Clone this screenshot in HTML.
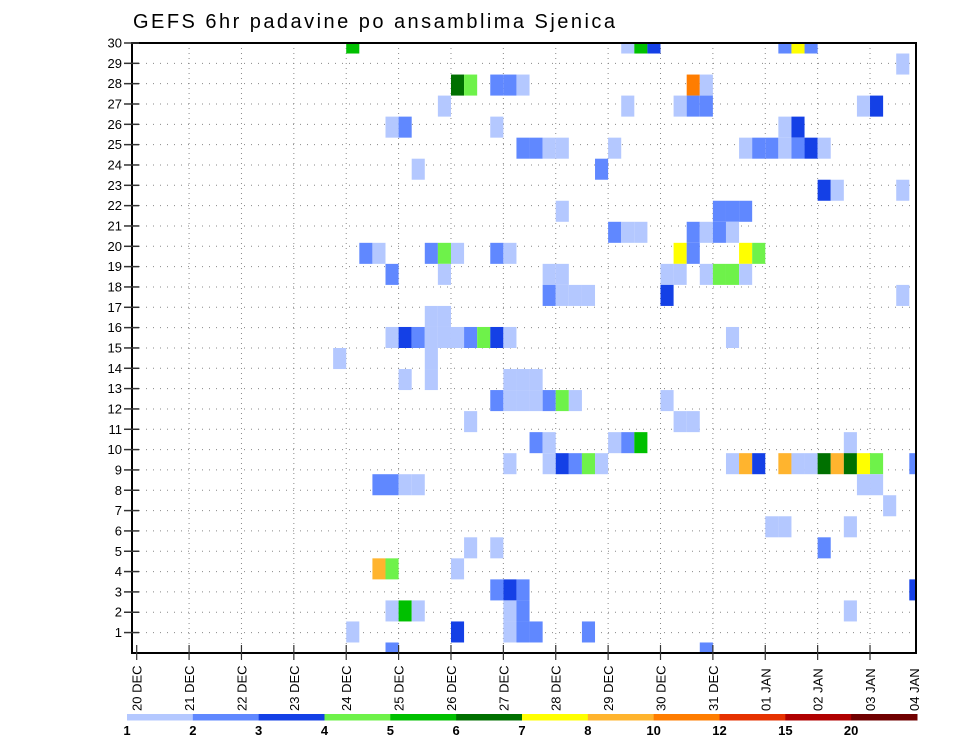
<!DOCTYPE html>
<html><head><meta charset="utf-8"><style>
body{margin:0;background:#fff}
svg{display:block;font-family:"Liberation Sans",sans-serif}
</style></head><body>
<svg id="chart" width="960" height="742" viewBox="0 0 960 742" xmlns="http://www.w3.org/2000/svg">
<text x="133" y="28" font-size="20" textLength="482" lengthAdjust="spacing" fill="#000">GEFS 6hr padavine po ansamblima Sjenica</text>
<g id="grid"></g>
<g id="cells"></g>
<rect x="132" y="43" width="784" height="610" fill="none" stroke="#000" stroke-width="2"/>
<g id="yaxis"></g>
<g id="xaxis"></g>
<g id="legend"></g>
</svg>
<script>
const dayLabels=["20 DEC","21 DEC","22 DEC","23 DEC","24 DEC","25 DEC","26 DEC","27 DEC","28 DEC","29 DEC","30 DEC","31 DEC","01 JAN","02 JAN","03 JAN","04 JAN"];
const memberTicks=[1,2,3,4,5,6,7,8,9,10,11,12,13,14,15,16,17,18,19,20,21,22,23,24,25,26,27,28,29,30];
const legendBounds=["1","2","3","4","5","6","7","8","10","12","15","20"];
const binEdges=[1,2,3,4,5,6,7,8,10,12,15,20];
const binColors=["#b4c8ff","#6088ff","#1440e6","#6ef24a","#00c000","#007000","#ffff00","#ffb42e","#ff7d00","#e63200","#b00000","#700000"];
// member, 6h-step index (from 20 DEC 00Z), precipitation (mm)
const cellMember=[30,30,30,30,30,30,30, 29, 28,28,28,28,28,28,28, 27,27,27,27,27,27,27, 26,26,26,26,26,
25,25,25,25,25,25,25,25,25,25,25,25, 24,24, 23,23,23, 22,22,22,22, 21,21,21,21,21,21,21,
20,20,20,20,20,20,20,20,20,20,20, 19,19,19,19,19,19,19,19,19,19, 18,18,18,18,18,18, 17,17,
16,16,16,16,16,16,16,16,16,16,16, 15,15, 14,14,14,14,14, 13,13,13,13,13,13,13,13, 12,12,12,
11,11,11,11,11,11, 10,10,10,10,10,10,10,10,10,10,10,10,10,10,10,10,10,10, 9,9,9,9,9,9, 8, 7,7,7,
6,6,6, 5,5,5, 4,4,4,4, 3,3,3,3,3,3, 2,2,2,2,2,2, 1,1];
const cellStep=[16,37,38,39,49,50,51, 58, 24,25,27,28,29,42,43, 23,37,41,42,43,55,56, 19,20,27,49,50,
29,30,31,32,36,46,47,48,49,50,51,52, 21,35, 52,53,58, 32,44,45,46, 36,37,38,42,43,44,45,
17,18,22,23,24,27,28,41,42,46,47, 19,23,31,32,40,41,43,44,45,46, 31,32,33,34,40,58, 22,23,
19,20,21,22,23,24,25,26,27,28,45, 15,22, 20,22,28,29,30, 27,28,29,30,31,32,33,40, 25,41,42,
30,31,36,37,38,54, 28,31,32,33,34,35,45,46,47,49,50,51,52,53,54,55,56,59, 18,19,20,21,55,56, 57, 48,49,54,
25,27,52, 18,19,24, 27,28,29,59, 19,20,21,28,29,54, 16,24,28,29,30,34, 19,43];
const cellValue=[5.5,1.5,5.5,3.5,2.5,7.5,2.5, 1.5, 6.5,4.5,2.5,2.5,1.5,11,1.5, 1.5,1.5,1.5,2.5,2.5,1.5,3.5, 1.5,2.5,1.5,1.5,3.5,
2.5,2.5,1.5,1.5,1.5,1.5,2.5,2.5,1.5,2.5,3.5,1.5, 1.5,2.5, 3.5,1.5,1.5, 1.5,2.5,2.5,2.5, 2.5,1.5,1.5,2.5,1.5,2.5,1.5,
2.5,1.5,2.5,4.5,1.5,2.5,1.5,7.5,2.5,7.5,4.5, 2.5,1.5,1.5,1.5,1.5,1.5,1.5,4.5,4.5,1.5, 2.5,1.5,1.5,1.5,3.5,1.5, 1.5,1.5,
1.5,3.5,2.5,1.5,1.5,1.5,2.5,4.5,3.5,1.5,1.5, 1.5,1.5, 1.5,1.5,1.5,1.5,1.5, 2.5,1.5,1.5,1.5,2.5,4.5,1.5,1.5, 1.5,1.5,1.5,
2.5,1.5,1.5,2.5,5.5,1.5, 1.5,1.5,3.5,2.5,4.5,1.5,1.5,9,3.5,9,1.5,1.5,6.5,9,6.5,7.5,4.5,2.5, 2.5,2.5,1.5,1.5,1.5,1.5, 1.5, 1.5,1.5,1.5,
1.5,1.5,2.5, 9,4.5,1.5, 2.5,3.5,2.5,3.5, 1.5,5.5,1.5,1.5,2.5,1.5, 1.5,3.5,1.5,2.5,2.5,2.5, 2.5,2.5];

const NS="http://www.w3.org/2000/svg";
const L=132,R=916,T=43,B=653;
const day0=136.7, dayW=52.38;
function xStep(k){return day0+k*dayW/4;}
function xDay(d){return day0+d*dayW;}
const cellH=(B-T)/29;
function yCell(m){return T+(30-m)*cellH;}
function yLabel(m){return T+(30-m)*20.33;}
function colorFor(v){let i=0;for(let j=0;j<binEdges.length;j++){if(v>=binEdges[j])i=j;}return binColors[i];}
function mk(tag,attrs,parent){const e=document.createElementNS(NS,tag);for(const k in attrs)e.setAttribute(k,attrs[k]);parent.appendChild(e);return e;}

const grid=document.getElementById('grid');
for(let d=1;d<15;d++){
 const gl=mk('line',{x1:xDay(d),x2:xDay(d),y1:T,y2:B,stroke:'#888','stroke-width':1,'stroke-dasharray':'1,4'},grid);
 
 
}
memberTicks.forEach(m=>{
 const gl=mk('line',{x1:L,x2:R,y1:yLabel(m),y2:yLabel(m),stroke:'#888','stroke-width':1,'stroke-dasharray':'1,6'},grid);
 
 
});

const cells=document.getElementById('cells');
for(let i=0;i<cellMember.length;i++){
 const x0=xStep(cellStep[i]), x1=Math.min(R,x0+dayW/4);
 const yc=yCell(cellMember[i]);
 const y0=Math.max(T,yc-cellH/2), y1=Math.min(B,yc+cellH/2);
 const r=mk('rect',{x:x0,y:y0,width:x1-x0,height:y1-y0,fill:colorFor(cellValue[i])},cells);
 
 
}

const ya=document.getElementById('yaxis');
memberTicks.forEach(m=>{
 const y=yLabel(m);
 const t=mk('line',{x1:124,x2:139,y1:y,y2:y,stroke:'#333','stroke-width':1.5},ya);
 
 
 const tx=mk('text',{x:122,y:y+4.5,'font-size':13,'text-anchor':'end',fill:'#000'},ya);
 tx.textContent=m;
 
 
});

const xa=document.getElementById('xaxis');
dayLabels.forEach((lab,d)=>{
 const x=d===15?R-2:xDay(d);
 if(d<15){
  const t=mk('line',{x1:x,x2:x,y1:645,y2:660,stroke:'#333','stroke-width':1.2},xa);
  
  
 }
 const tx=mk('text',{x:0,y:0,'font-size':13,'text-anchor':'start',fill:'#000',transform:`translate(${x+5},711) rotate(-90)`},xa);
 tx.textContent=lab;
 
 
});

const lg=document.getElementById('legend');
const lx0=127, lw=(917-127)/12;
binColors.forEach((c,i)=>{
 const r=mk('rect',{x:lx0+i*lw,y:714,width:lw+0.5,height:6.5,fill:c},lg);
 
 
});
legendBounds.forEach((s,i)=>{
 const tx=mk('text',{x:lx0+i*lw,y:735,'font-size':13,'font-weight':'bold','text-anchor':'middle',fill:'#000'},lg);
 tx.textContent=s;
 
 
});
</script>
</body></html>
